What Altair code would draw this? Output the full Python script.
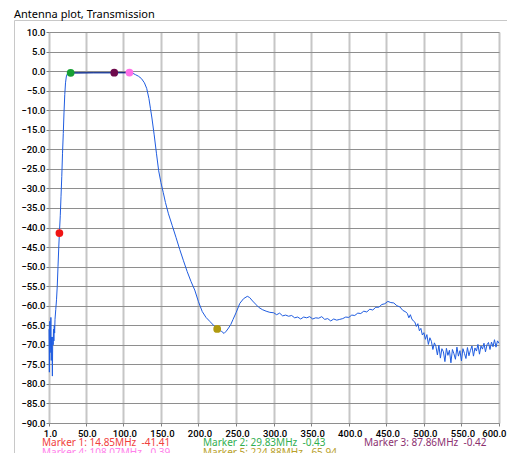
import altair as alt
import pandas as pd

# ---- trace (MHz, dB) ----
freq = [1, 1.5, 2, 2.5, 3, 3.5, 4, 4.5, 5, 5.5, 6, 6.5, 7, 7.5, 8, 8.5, 9, 10, 11, 12, 13, 14,
        14.85, 16, 17, 18, 19, 20, 21, 22, 23, 24, 25, 27, 29.83, 40, 60, 87.86, 100, 108.07,
        112, 116, 120, 124, 128, 131, 134, 136, 138, 141, 144, 147, 150, 153, 156, 160, 165,
        170, 175, 180, 185, 190, 195, 200, 205, 210, 215, 220, 224.88, 228, 231, 234, 237, 240,
        243, 246, 250, 255, 260, 265, 268, 272, 276, 280, 285, 290, 295,
        300, 304, 308, 312, 316, 320, 324, 328, 332, 336, 340, 344, 348, 352, 356, 360, 364,
        368, 372, 376, 380, 384, 388, 392, 396, 400, 404, 408, 412, 416, 420, 424, 428, 432,
        436, 440, 444, 448, 452, 456, 460, 464, 468, 472, 476,
        478, 480, 482, 484, 486, 488, 490, 492, 494, 496, 498, 500, 502, 504, 506, 508, 510,
        512, 514, 516, 518, 520, 522, 524, 526, 528, 530, 532, 534, 536, 538, 540, 542, 544,
        546, 548, 550, 552, 554, 556, 558, 560, 562, 564, 566, 568, 570, 572, 574, 576, 578,
        580, 582, 584, 586, 588, 590, 592, 594, 596, 598, 600]
gain = [-66, -77, -64, -72, -69, -63, -74, -68, -71, -78, -68, -70, -66, -69, -65, -67, -63.5,
        -61, -58.5, -55, -50, -45, -41.41, -37, -32, -27, -21, -16, -10.5, -6, -3, -1.5, -0.8,
        -0.5, -0.43, -0.43, -0.42, -0.42, -0.4, -0.39,
        -0.5, -0.9, -1.3, -1.9, -3, -4.4, -7, -9.5, -12, -16.3, -21, -25.5, -28.5, -31, -33.6,
        -36.5, -39.5, -42.5, -45.6, -48.5, -51.3, -53.8, -56, -59, -61.5, -63, -64, -65, -65.94,
        -66.3, -66.6, -67.1, -66.5, -65.7, -64.8, -63.5, -61.8, -59.4, -58.2, -57.6, -57.9,
        -58.8, -59.6, -60.4, -61, -61.4, -61.7,
        -61.8, -62.3, -61.9, -62.6, -62.4, -62.7, -62.5, -63.1, -62.9, -63.4, -62.9, -63.1,
        -62.8, -63.4, -63.1, -63.2, -62.8, -63.5, -63.3, -63.9, -63.4, -63.7, -63.5, -63.3,
        -62.9, -63.0, -62.4, -62.5, -61.9, -62.0, -61.4, -61.6, -60.9, -61.1, -60.4, -60.4,
        -59.7, -59.5, -58.9, -59.2, -59.3, -60.0, -60.3, -61.2, -61.6,
        -62.0, -63.1, -62.3, -63.4, -63.9, -64.2, -65.3, -64.6, -66.4, -65.8, -67.5, -66.9,
        -68.6, -67.4, -69.9, -68.2, -69.1, -71.2, -69.5, -70.4, -72.6, -70.1, -73.4, -71.0,
        -71.8, -74.3, -70.9, -72.7, -71.4, -74.6, -71.2, -72.3, -73.7, -70.6, -72.9, -71.5,
        -74.1, -71.0, -72.2, -73.5, -70.7, -72.8, -71.4, -70.3, -72.9, -70.8, -71.6, -69.9,
        -72.4, -70.3, -71.1, -69.6, -71.8, -70.0, -69.4, -71.2, -69.3, -70.5, -68.7, -70.6,
        -69.0, -69.6]

# ---- markers ----
marker_id = [1, 2, 3, 4, 5]
marker_freq = [14.85, 29.83, 87.86, 108.07, 224.88]
marker_gain = [-41.41, -0.43, -0.42, -0.39, -65.94]
marker_color = ["#f01414", "#17a035", "#6e0a4c", "#ff70e8", "#b09a10"]
label_color = ["#f0403c", "#30ae50", "#8c3070", "#ff80ea", "#b8a028"]

x_ticks = [1, 50, 100, 150, 200, 250, 300, 350, 400, 450, 500, 550, 600]
y_ticks = list(range(-90, 11, 5))

W, H = 450, 391

curve = pd.DataFrame({"f": freq, "g": gain})
marks = pd.DataFrame({
    "f": marker_freq, "g": marker_gain, "c": marker_color, "lc": label_color,
    "label": [f"Marker {i}: {f:.2f}MHz\u00a0 {g:.2f}" for i, f, g in zip(marker_id, marker_freq, marker_gain)],
    "lx": [[-7, 154, 315][(i - 1) % 3] for i in marker_id],
    "ly": [[411, 420.5][(i - 1) // 3] for i in marker_id],
})

xs = alt.Scale(domain=[1, 600], nice=False, zero=False)
ys = alt.Scale(domain=[-90, 10], nice=False, zero=False)

LF = "Roboto"
xaxis = alt.Axis(values=x_ticks, format=".1f", title=None, grid=True, gridColor="#c6c6c6",
                 gridWidth=2, ticks=True, tickSize=3, tickColor="#808080", labelPadding=2,
                 domain=False, labelFontSize=9.5,
                 labelAlign={"expr": "datum.value == 600 ? 'right' : 'center'"},
                 labelOffset={"expr": "datum.value == 600 ? 7 : 1"},
                 labelColor="#000000", labelFont=LF, labelFontWeight=500, labelFlush=False,
                 labelOverlap=False)
yaxis = alt.Axis(values=y_ticks, format=".1f", title=None, grid=True, gridColor="#8e8e8e",
                 gridWidth=1, ticks=True, tickSize=3, tickColor="#808080", labelPadding=1,
                 domain=False, labelFontSize=9.5,
                 labelColor="#000000", labelFont=LF, labelFontWeight=500, labelOverlap=False)

X = alt.X("f:Q", scale=xs, axis=xaxis)
Y = alt.Y("g:Q", scale=ys, axis=yaxis)

base = alt.Chart(curve)

frame = alt.Chart(pd.DataFrame({"a": [0]})).mark_rect(
    fill=None, stroke="#c8c8c8", strokeWidth=1
).encode(x=alt.value(-34.5), x2=alt.value(460.5), y=alt.value(-11.5), y2=alt.value(440))

title = alt.Chart(pd.DataFrame({"t": ["Antenna plot, Transmission"]})).mark_text(
    align="left", baseline="middle", fontSize=11, font="Noto Sans", color="#000000"
).encode(x=alt.value(-35), y=alt.value(-17.5), text="t:N")

line = base.mark_line(color="#1f5ce0", strokeWidth=1).encode(x=X, y=Y)
flat = base.transform_filter(
    (alt.datum.f >= 29.83) & (alt.datum.f <= 108.07)
).mark_line(color="#1a2f80", strokeWidth=1.2).encode(x=X, y=Y)
dots = alt.Chart(marks).mark_circle(size=60, opacity=1).encode(
    x=X, y=Y, color=alt.Color("c:N", scale=None),
)
labels = alt.Chart(marks).mark_text(
    align="left", baseline="middle", fontSize=10, font="Noto Sans"
).encode(
    x=alt.X("lx:Q", scale=None), y=alt.Y("ly:Q", scale=None),
    text="label:N", color=alt.Color("lc:N", scale=None),
)

chart = alt.layer(frame, line, flat, dots, labels, title).properties(
    width=W, height=H,
    autosize=alt.AutoSizeParams(type="none"),
    padding={"left": 41, "top": 24, "right": 8, "bottom": 30},
).configure_view(stroke="#8a8a8a", strokeWidth=1).configure(background="white")

chart.save("out.html", embed_options={"renderer": "svg", "actions": False})
